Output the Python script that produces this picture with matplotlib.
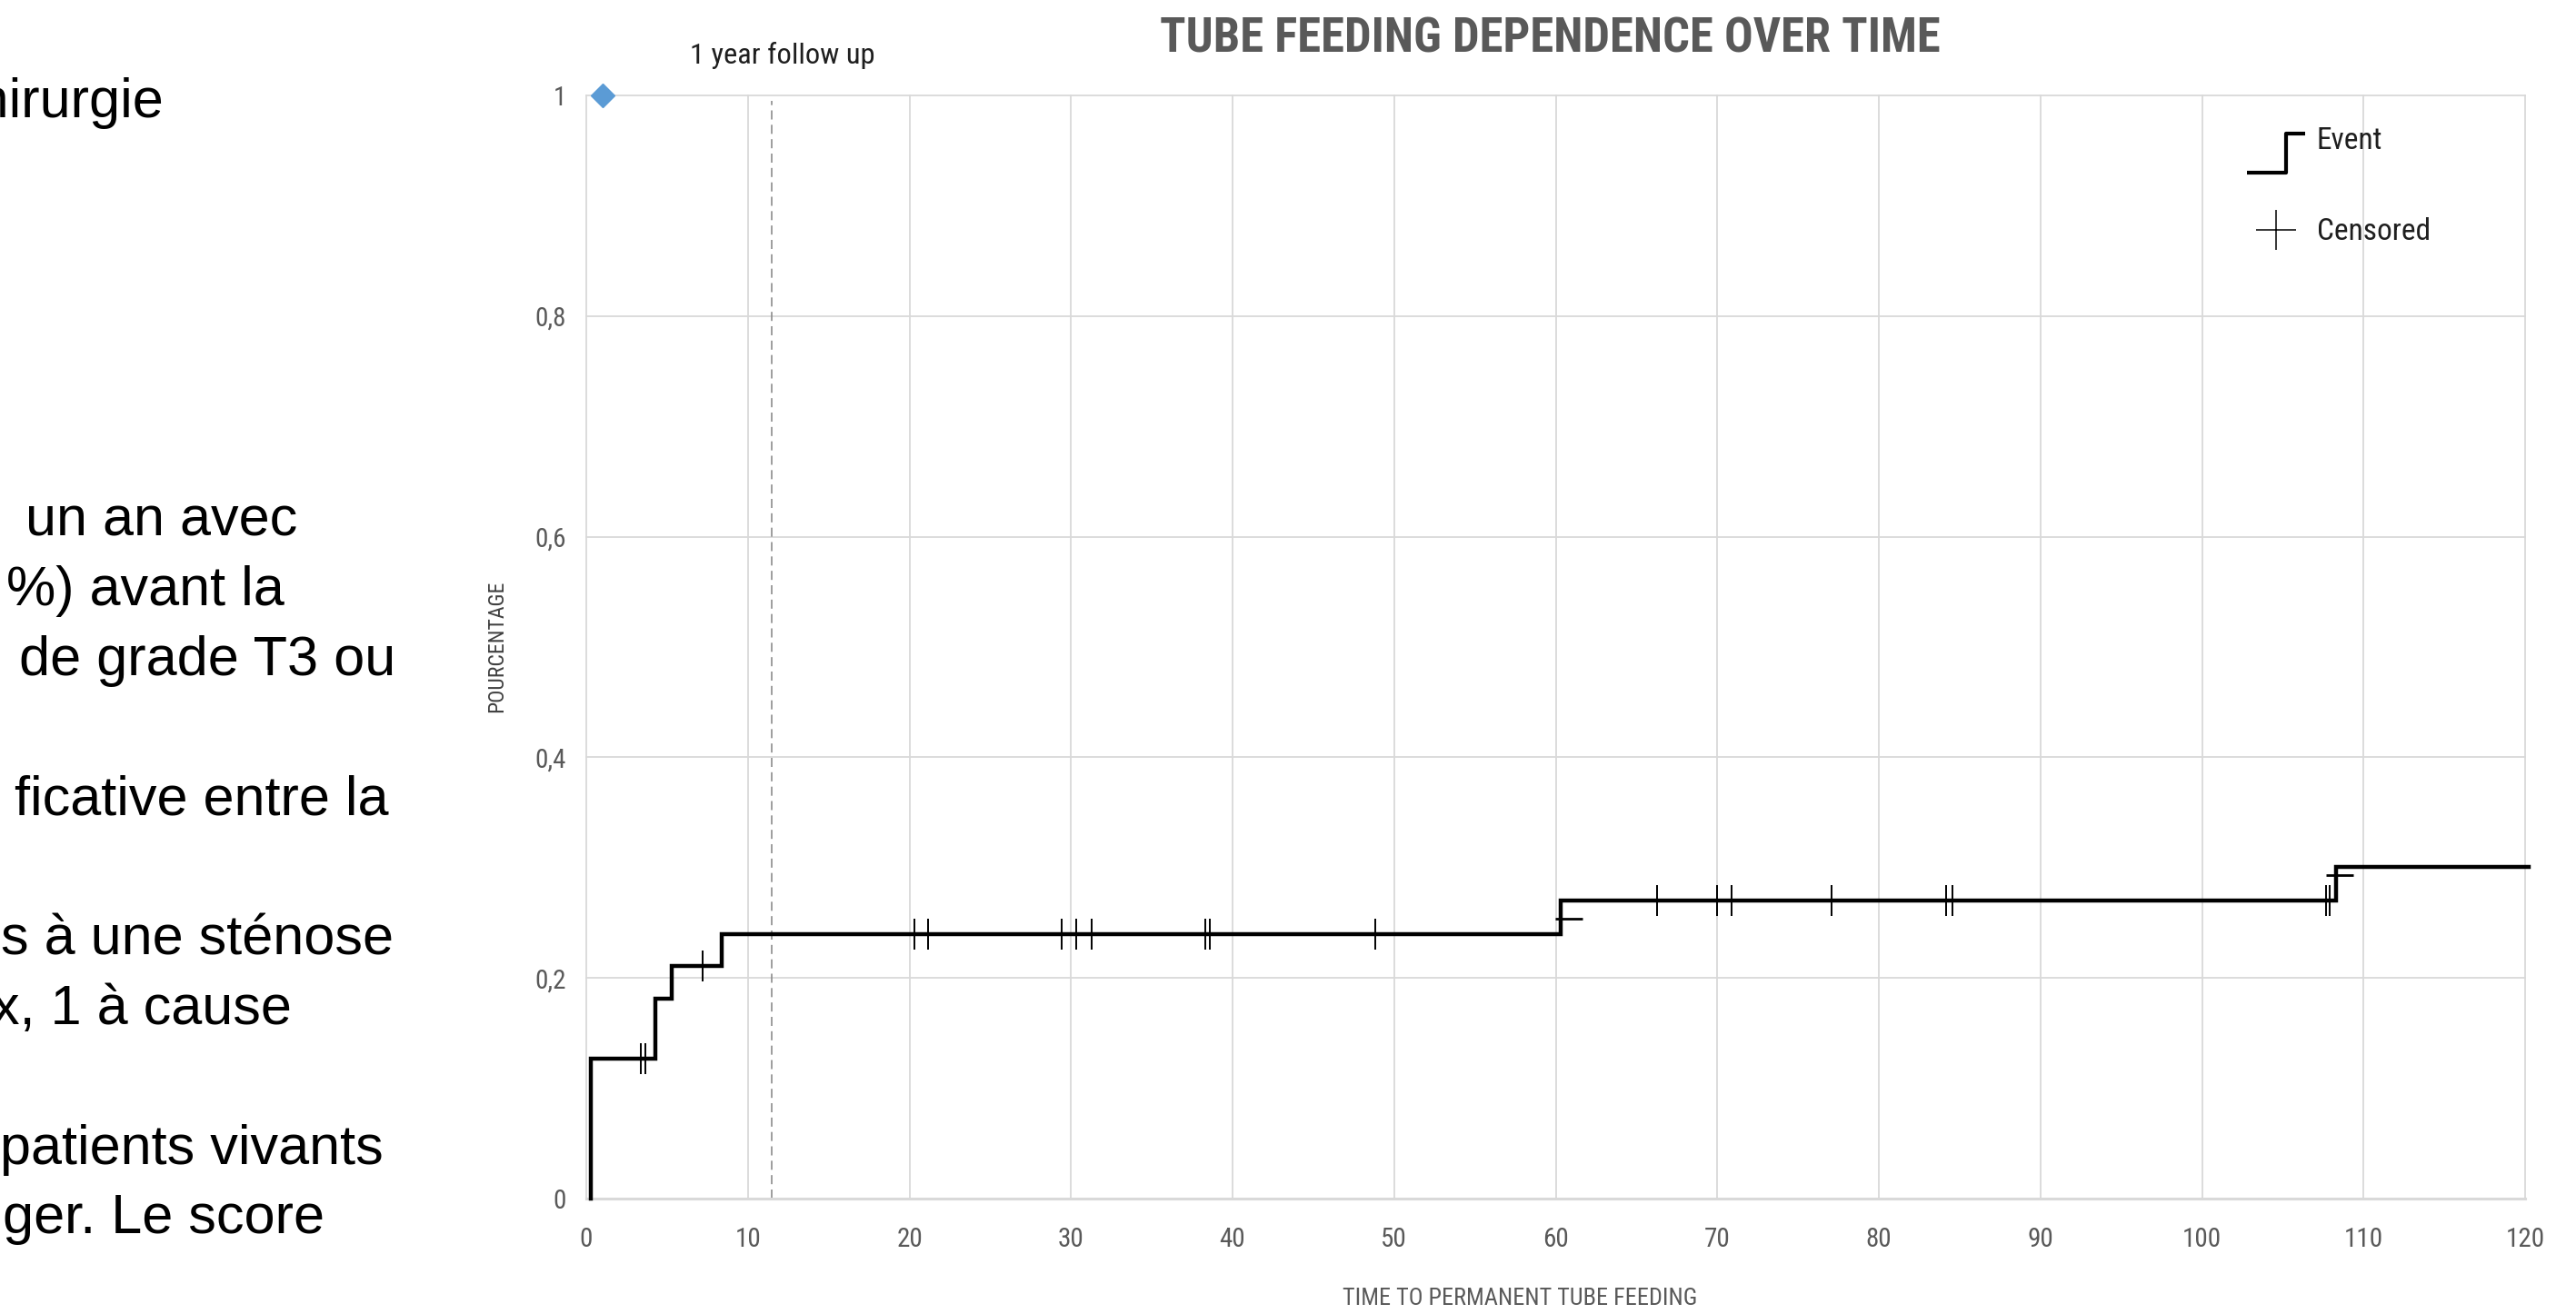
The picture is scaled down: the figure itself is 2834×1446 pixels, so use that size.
import matplotlib
matplotlib.use("Agg")
import matplotlib.pyplot as plt
from matplotlib.lines import Line2D
from matplotlib.path import Path
import numpy as np

# figure size in pixels (dpi 100)
W, H = 2834, 1446
DPI = 100

# chart data
event_times = [0.3, 0.3, 4.3, 5.3, 8.4, 60.3, 108.3, 120.2]
event_levels = [0.0, 0.127, 0.181, 0.211, 0.240, 0.270, 0.301, 0.301]
censor_times = [3.4, 3.65, 7.2, 20.3, 21.15, 29.4, 30.3, 31.3, 38.3, 38.6,
                48.85, 66.3, 70.0, 70.9, 77.1, 84.15, 84.55, 107.7, 107.9]
dash_times = [60.8, 108.5]
dash_levels = [0.254, 0.293]
marker_point = (1, 1)
followup_month = 11.5

x_ticks = list(range(0, 121, 10))
y_ticks = [0, 0.2, 0.4, 0.6, 0.8, 1]
y_tick_labels = ["0", "0,2", "0,4", "0,6", "0,8", "1"]

# cut-off slide text on the left: (text, right edge px, baseline line index)
side_lines = [
    ("chirurgie", 180, 0),
    ("un an avec", 327, 6),
    ("%) avant la", 313, 7),
    ("de grade T3 ou", 435, 8),
    ("ficative entre la", 427, 10),
    ("s à une sténose", 433, 12),
    ("x, 1 à cause", 321, 13),
    ("patients vivants", 422, 15),
    ("ger. Le score", 357, 16),
]

CHART_FONT = ["Roboto Condensed", "Liberation Sans Narrow", "DejaVu Sans"]
plt.rcParams["font.family"] = CHART_FONT

GREY = "#595959"
GRID = "#d9d9d9"


def fx(x):
    return x / W


def fy(y):
    return 1 - y / H


def fit(text, target, use_height=False):
    # scale the font so the text spans the wanted number of pixels
    r = fig.canvas.get_renderer()
    ext = text.get_window_extent(r)
    size = ext.height if use_height else ext.width
    text.set_fontsize(text.get_fontsize() * target / size)


fig = plt.figure(figsize=(W / DPI, H / DPI), dpi=DPI)
fig.patch.set_facecolor("white")

ax = fig.add_axes([fx(645), fy(1319), fx(2778 - 645), (1319 - 105) / H])
ax.set_xlim(0, 120)
ax.set_ylim(0, 1)

# grid
ax.set_axisbelow(True)
ax.grid(True, color=GRID, lw=1.3)
for ln in ax.get_xgridlines() + ax.get_ygridlines():
    ln.set_clip_on(False)
for side in ["top", "right", "left"]:
    ax.spines[side].set_visible(False)
ax.spines["bottom"].set_color(GRID)
ax.spines["bottom"].set_linewidth(2.2)

ax.set_xticks(x_ticks)
ax.set_yticks(y_ticks)
ax.set_yticklabels(y_tick_labels)
ax.tick_params(axis="both", length=0, labelsize=21, labelcolor=GREY)
ax.tick_params(axis="x", pad=22)
ax.tick_params(axis="y", pad=16)

# 1 year follow up line
ax.axvline(followup_month, ymin=0, ymax=0.995, color="#8c8c8c", lw=1.2,
           ls=(0, (6, 3.5)), zorder=2)

# curve
ax.step(event_times, event_levels, where="post", color="black", lw=3.2,
        solid_joinstyle="miter", clip_on=False, zorder=3)

idx = np.searchsorted(event_times, censor_times, side="right") - 1
censor_levels = np.array(event_levels)[idx]
ax.plot(censor_times, censor_levels, ls="none", marker="|", ms=24, mew=1.4,
        color="black", zorder=4)
ax.plot(dash_times, dash_levels, ls="none", marker="_", ms=21, mew=2,
        color="black", zorder=4)

ax.plot([marker_point[0]], [marker_point[1]], ls="none", marker="D", ms=13,
        color="#5b9bd5", clip_on=False, zorder=5)

# legend (step icon sits a little below its label)
step_icon = Path([(-0.83, -1), (0.28, -1), (0.28, 0.13), (0.83, 0.13)],
                 [Path.MOVETO, Path.LINETO, Path.LINETO, Path.LINETO])
handles = [
    Line2D([], [], ls="none", marker=step_icon, ms=55, mew=3, color="black",
           fillstyle="none"),
    Line2D([], [], ls="none", marker="+", ms=31, mew=1.1, color="black"),
]
leg = ax.legend(handles, ["Event", "Censored"], loc="upper left",
                bbox_to_anchor=(fx(2472), fy(139)),
                bbox_transform=fig.transFigure, frameon=False,
                fontsize=24, handlelength=1.9, handletextpad=0.4,
                labelspacing=2.05, borderpad=0, borderaxespad=0)
for t in leg.get_texts():
    t.set_color("#1f1f1f")

# titles and labels
title = fig.text(fx(1705), fy(58), "TUBE FEEDING DEPENDENCE OVER TIME",
                 ha="center", va="baseline", fontsize=36, fontweight="bold",
                 color=GREY)
note = fig.text(fx(861), fy(70), "1 year follow up", ha="center",
                va="baseline", fontsize=23, color="#1f1f1f")
xlab = fig.text(fx(1672), fy(1436), "TIME TO PERMANENT TUBE FEEDING",
                ha="center", va="baseline", fontsize=19, color=GREY)
ylab = fig.text(fx(547), fy(711), "POURCENTAGE", ha="center", va="center",
                rotation=90, fontsize=17, color="#404040")

fit(title, 860)
fit(note, 204)
fit(xlab, 389)
fit(ylab, 145, use_height=True)

# slide text cut by the left edge
for txt, right, k in side_lines:
    fig.text(fx(right), fy(128.5 + 76.8 * k), txt, ha="right", va="baseline",
             fontsize=44, color="black", family=["Liberation Sans", "DejaVu Sans"])

fig.savefig("out.png", dpi=DPI, facecolor="white")
